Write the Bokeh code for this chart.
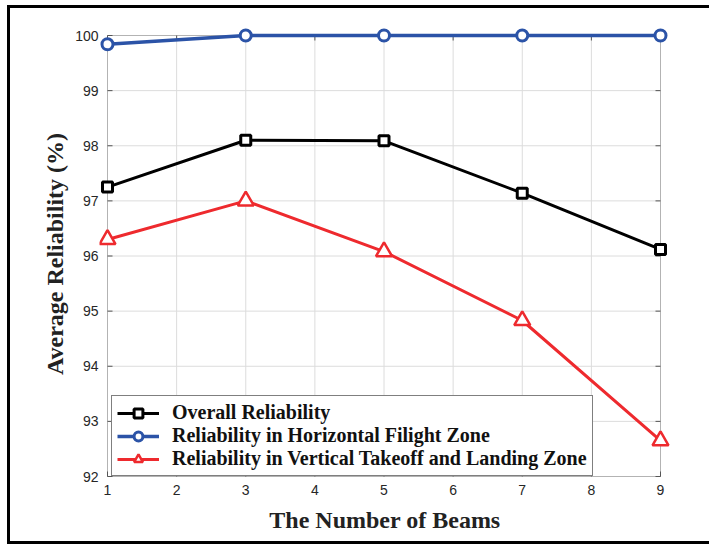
from bokeh.plotting import figure
from bokeh.models import Range1d, FixedTicker, Legend, LegendItem, BoxAnnotation
from bokeh.embed import file_html
from bokeh.resources import INLINE

# Number of beams and average reliability (%) for each zone
beams = [1, 3, 5, 7, 9]
overall = [97.25, 98.1, 98.09, 97.14, 96.12]
horizontal = [99.84, 100.0, 100.0, 100.0, 100.0]
vertical = [96.3, 97.0, 96.08, 94.83, 92.65]

x_ticks = [1, 2, 3, 4, 5, 6, 7, 8, 9]
y_ticks = [92, 93, 94, 95, 96, 97, 98, 99, 100]

BLACK = "#000000"
BLUE = "#2B53A7"
RED = "#EE2A2E"
AXIS = "#555555"
GRID = "#dcdcdc"
TICK_TXT = "#262626"

X0, X1 = x_ticks[0], x_ticks[-1]
Y0, Y1 = y_ticks[0], y_ticks[-1]

# axes box is 553 x 441 px; a little extra room around it keeps edge markers whole
BOX_W, BOX_H = 553, 441
PX_X = (X1 - X0) / BOX_W
PX_Y = (Y1 - Y0) / BOX_H
PAD_L, PAD_R, PAD_T, PAD_B = 8, 10, 10, 6
TICK_LEN = 5

p = figure(width=709, height=545, output_backend="svg", toolbar_location=None,
           x_range=Range1d(X0 - PAD_L * PX_X, X1 + PAD_R * PX_X),
           y_range=Range1d(Y0 - PAD_B * PX_Y, Y1 + PAD_T * PX_Y),
           min_border_left=99, min_border_right=39,
           min_border_top=25, min_border_bottom=63,
           background_fill_color="white", border_fill_color="white")
p.border_fill_alpha = 0
p.outline_line_color = None
p.xgrid.visible = False
p.ygrid.visible = False

# outer frame of the page (left, top and bottom edges), painted behind the canvas
p.styles = {"background-color": "white",
            "box-shadow": "inset 7px 0 0 0 #fff, inset 0 5px 0 0 #fff, "
                          "inset 0 -1px 0 0 #fff, "
                          "inset 10px 0 0 0 #000, inset 0 8px 0 0 #000, "
                          "inset 0 -4px 0 0 #000"}

# grid lines inside the axes box
p.segment(x0=x_ticks, y0=Y0, x1=x_ticks, y1=Y1, line_color=GRID, line_width=1,
          level="underlay")
p.segment(x0=X0, y0=y_ticks, x1=X1, y1=y_ticks, line_color=GRID, line_width=1,
          level="underlay")

# axes box
p.add_layout(BoxAnnotation(left=X0, right=X1, bottom=Y0, top=Y1, fill_alpha=0,
                           line_color=AXIS, line_width=1, level="underlay"))

# inward tick marks on all four sides
p.segment(x0=X0, y0=y_ticks, x1=X0 + TICK_LEN * PX_X, y1=y_ticks, line_color=AXIS)
p.segment(x0=X1, y0=y_ticks, x1=X1 - TICK_LEN * PX_X, y1=y_ticks, line_color=AXIS)
p.segment(x0=x_ticks, y0=Y1, x1=x_ticks, y1=Y1 - TICK_LEN * PX_Y, line_color=AXIS)
p.segment(x0=x_ticks, y0=Y0, x1=x_ticks, y1=Y0 + TICK_LEN * PX_Y, line_color=AXIS)

xa = p.xaxis[0]
ya = p.yaxis[0]
xa.ticker = FixedTicker(ticks=x_ticks)
ya.ticker = FixedTicker(ticks=y_ticks)
for ax in (xa, ya):
    ax.axis_line_color = None
    ax.major_tick_line_color = None
    ax.minor_tick_line_color = None
    ax.major_tick_in = 0
    ax.major_label_text_font = "Liberation Sans"
    ax.major_label_text_font_size = "14px"
    ax.major_label_text_color = TICK_TXT
    ax.axis_label_text_font = "Liberation Serif"
    ax.axis_label_text_font_style = "bold"
    ax.axis_label_text_font_size = "24px"
    ax.axis_label_text_color = "#222222"
xa.major_tick_out = 0
ya.major_tick_out = 1
xa.major_label_standoff = 2
ya.major_label_standoff = 0
xa.axis_label = "The Number of Beams"
ya.axis_label = "Average Reliability (%)"
xa.axis_label_standoff = 9
ya.axis_label_standoff = 4

# series
r_hz = p.line(beams, horizontal, line_color=BLUE, line_width=3.5)
m_hz = p.scatter(beams, horizontal, marker="circle", size=11, line_color=BLUE,
                 line_width=3, fill_color="white")

r_all = p.line(beams, overall, line_color=BLACK, line_width=3)
m_all = p.scatter(beams, overall, marker="square", size=10, line_color=BLACK,
                  line_width=3, fill_color="white")

r_vt = p.line(beams, vertical, line_color=RED, line_width=3)
m_vt = p.scatter(beams, vertical, marker="triangle", size=16, line_color=RED,
                 line_width=2.5, fill_color="white")

legend = Legend(items=[
    LegendItem(label="Overall Reliability", renderers=[r_all, m_all]),
    LegendItem(label="Reliability in Horizontal Filight Zone", renderers=[r_hz, m_hz]),
    LegendItem(label="Reliability in Vertical Takeoff and Landing Zone", renderers=[r_vt, m_vt]),
], location=(PAD_L + 4, PAD_B))
legend.label_text_font = "Liberation Serif"
legend.label_text_font_style = "bold"
legend.label_text_font_size = "20px"
legend.label_text_color = "#111111"
legend.glyph_width = 42
legend.glyph_height = 22
legend.label_height = 22
legend.spacing = 0
legend.padding = 5
legend.margin = 0
legend.label_standoff = 13
legend.border_line_color = "#000000"
legend.border_line_width = 1
legend.background_fill_color = "white"
legend.background_fill_alpha = 1
p.add_layout(legend, "center")

open("out.html", "w").write(file_html(p, INLINE))
